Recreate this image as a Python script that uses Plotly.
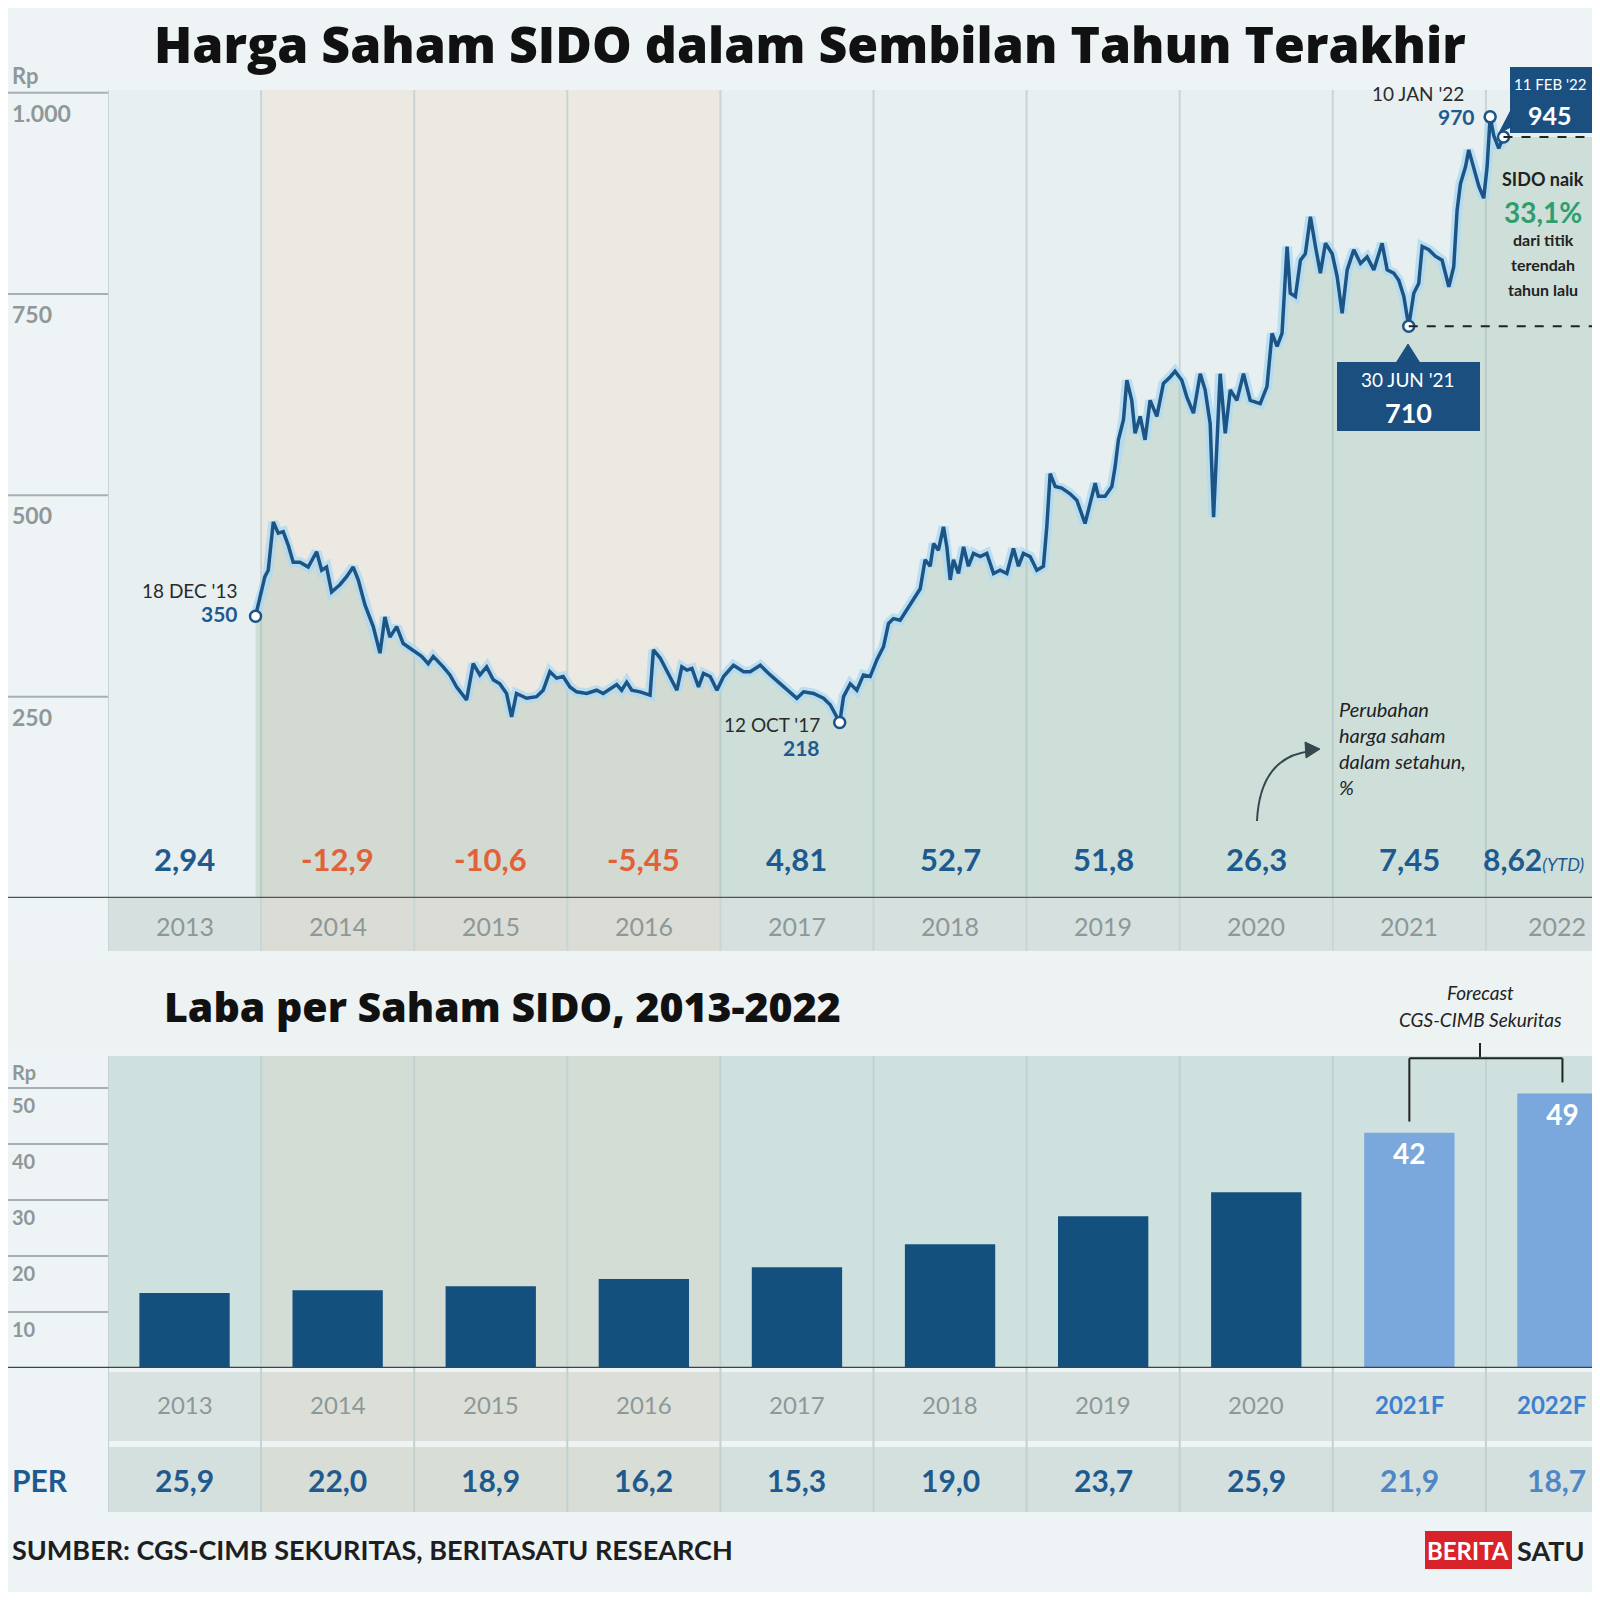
import pandas as pd
import plotly.graph_objects as go

# reference frame is 1600 px; the page shows the figure with an 8 px body margin
W = H = 1600
FIG = 1584
OFF = 8
FONT = "Lato"
HEAD = "Open Sans"

# harga saham SIDO (Rp) -- tanggal sebagai tahun desimal
price_t = [2013.964,
           2014.025, 2014.047, 2014.080, 2014.112, 2014.145, 2014.178, 2014.210, 2014.254, 2014.308, 2014.363,
           2014.396, 2014.428, 2014.461, 2014.515, 2014.559, 2014.602, 2014.635, 2014.679, 2014.733, 2014.777,
           2014.809, 2014.842, 2014.886, 2014.929, 2014.994,
           2015.049, 2015.092, 2015.125, 2015.190, 2015.234, 2015.278, 2015.343, 2015.386, 2015.430, 2015.474,
           2015.517, 2015.560, 2015.604, 2015.637, 2015.669, 2015.735, 2015.800, 2015.843, 2015.887, 2015.931,
           2015.974,
           2016.018, 2016.061, 2016.127, 2016.192, 2016.235, 2016.323, 2016.355, 2016.388, 2016.421, 2016.475,
           2016.540, 2016.562, 2016.606, 2016.649, 2016.715, 2016.747, 2016.780, 2016.813, 2016.856, 2016.888,
           2016.932, 2016.976,
           2017.019, 2017.084, 2017.150, 2017.193, 2017.259, 2017.324, 2017.389, 2017.455, 2017.498, 2017.542,
           2017.607, 2017.672, 2017.716, 2017.778, 2017.803, 2017.847, 2017.890, 2017.933, 2017.977,
           2018.021, 2018.064, 2018.097, 2018.129, 2018.173, 2018.304, 2018.336, 2018.369, 2018.391, 2018.423,
           2018.456, 2018.478, 2018.500, 2018.521, 2018.554, 2018.587, 2018.619, 2018.652, 2018.696, 2018.739,
           2018.783, 2018.826, 2018.870, 2018.913, 2018.946, 2018.978,
           2019.022, 2019.066, 2019.109, 2019.131, 2019.153, 2019.186, 2019.229, 2019.283, 2019.327, 2019.381,
           2019.414, 2019.447, 2019.468, 2019.512, 2019.556, 2019.577, 2019.599, 2019.632, 2019.654, 2019.686,
           2019.708, 2019.741, 2019.773, 2019.806, 2019.850, 2019.893, 2019.937, 2019.969,
           2020.013, 2020.046, 2020.089, 2020.133, 2020.165, 2020.198, 2020.220, 2020.242, 2020.263, 2020.296,
           2020.329, 2020.372, 2020.415, 2020.459, 2020.524, 2020.568, 2020.601, 2020.634, 2020.666, 2020.699,
           2020.720, 2020.753, 2020.786, 2020.818, 2020.851, 2020.884, 2020.916, 2020.949, 2020.993,
           2021.025, 2021.058, 2021.091, 2021.134, 2021.178, 2021.221, 2021.265, 2021.319, 2021.352, 2021.395,
           2021.428, 2021.461, 2021.493, 2021.526, 2021.558, 2021.581, 2021.624, 2021.667, 2021.711, 2021.755,
           2021.787, 2021.809, 2021.831, 2021.864, 2021.885, 2021.918, 2021.951, 2021.983,
           2022.005, 2022.025, 2022.048, 2022.081, 2022.112]
price_v = [350,
           399, 407, 467, 453, 455, 438, 417, 417, 411, 430,
           407, 411, 380, 389, 399, 411, 395, 364, 337, 304,
           349, 324, 337, 316, 308,
           300, 291, 300, 287, 277, 262, 246, 291, 277, 287,
           271, 266, 254, 225, 254, 248, 250, 258, 281, 273,
           275,
           262, 256, 254, 258, 254, 265, 258, 268, 258, 256,
           252, 308, 298, 283, 258, 287, 283, 285, 262, 279,
           275, 258,
           275, 289, 281, 281, 289, 277, 266, 256, 248, 256,
           254, 248, 240, 218, 250, 266, 258, 277, 275,
           296, 312, 341, 347, 345, 384, 420, 412, 440, 432,
           461, 436, 395, 420, 403, 436, 412, 428, 424, 428,
           403, 407, 403, 434, 412, 428,
           424, 407, 412, 461, 527, 511, 509, 502, 494, 465,
           490, 515, 499, 499, 511, 535, 569, 594, 643, 618,
           577, 598, 569, 618, 598, 639, 647, 654,
           643, 622, 602, 651, 631, 589, 473, 569, 651, 577,
           631, 618, 651, 618, 614, 635, 701, 685, 701, 809,
           751, 747, 792, 800, 846, 809, 776, 813, 800,
           772, 726, 780, 805, 788, 796, 780, 813, 780, 776,
           767, 747, 710, 751, 763, 809, 805, 797, 792, 759,
           784, 854, 887, 908, 929, 908, 884, 869,
           908, 970, 947, 931, 945]

# titik yang diberi keterangan
hl_t = [2013.964, 2017.778, 2021.493, 2022.025, 2022.112]

years = ['2013', '2014', '2015', '2016', '2017', '2018', '2019', '2020', '2021', '2022']
chg_pct = ['2,94', '-12,9', '-10,6', '-5,45', '4,81', '52,7', '51,8', '26,3', '7,45', '8,62']
eps_labels = ['2013', '2014', '2015', '2016', '2017', '2018', '2019', '2020', '2021F', '2022F']
eps_vals = [13.4, 13.9, 14.6, 15.9, 18.0, 22.1, 27.1, 31.4, 42, 49]
eps_forecast = [False] * 8 + [True, True]
per_vals = ['25,9', '22,0', '18,9', '16,2', '15,3', '19,0', '23,7', '25,9', '21,9', '18,7']
price_ticks = [250, 500, 750, 1000]
eps_ticks = [10, 20, 30, 40, 50]

X_START, X_END = '2013-01-01', '2022-09-10'
X2_END = 9.193


def to_date(t):
    y = int(t)
    a = pd.Timestamp(year=y, month=1, day=1)
    b = pd.Timestamp(year=y + 1, month=1, day=1)
    return a + (b - a) * (t - y)


def px(x):
    return (x - OFF) / FIG


def py(y):
    return 1 - (y - OFF) / FIG


def fmt_tick(v):
    return f'{v:,}'.replace(',', '.')


dates = [to_date(t) for t in price_t]
hl_i = [price_t.index(t) for t in hl_t]
last = len(years) - 1

LIGHT = '#e7eff0'
BEIGE = '#ece8e2'
BLUE_TXT = '#1f5a8e'
LINE = '#1d5486'

fig = go.Figure()

# area di bawah garis
fig.add_trace(go.Scatter(x=dates, y=price_v, mode='lines', line=dict(width=0),
                         fill='tozeroy', fillcolor='rgba(150,185,170,0.30)', hoverinfo='skip'))
fig.add_trace(go.Scatter(x=[dates[-1], X_END], y=[price_v[-1], price_v[-1]], mode='lines',
                         line=dict(width=0), fill='tozeroy', fillcolor='rgba(150,185,170,0.30)'))
# garis harga + halo
fig.add_trace(go.Scatter(x=dates, y=price_v, mode='lines',
                         line=dict(color='rgba(175,218,242,0.8)', width=10)))
fig.add_trace(go.Scatter(x=dates, y=price_v, mode='lines', line=dict(color=LINE, width=3.5)))
fig.add_trace(go.Scatter(x=[dates[i] for i in hl_i], y=[price_v[i] for i in hl_i], mode='markers',
                         marker=dict(size=11, color='white', line=dict(color=LINE, width=2.5))))

# laba per saham
fig.add_trace(go.Bar(x=list(range(len(eps_vals))), y=eps_vals, width=0.59,
                     marker=dict(color=['#7aa8dc' if f else '#14507d' for f in eps_forecast], line=dict(width=0)),
                     text=[str(v) if f else '' for v, f in zip(eps_vals, eps_forecast)],
                     textposition='inside', insidetextanchor='end',
                     textfont=dict(family=FONT, size=28, color='white', weight='bold'),
                     xaxis='x2', yaxis='y2'))

shapes = []


def rect(x0, x1, y0, y1, color, xref='paper', yref='paper', layer='below'):
    shapes.append(dict(type='rect', x0=x0, x1=x1, y0=y0, y1=y1, xref=xref, yref=yref,
                       fillcolor=color, line=dict(width=0), layer=layer))


def line(x0, x1, y0, y1, color, width=2, xref='paper', yref='paper', dash='solid', layer='above'):
    shapes.append(dict(type='line', x0=x0, x1=x1, y0=y0, y1=y1, xref=xref, yref=yref,
                       line=dict(color=color, width=width, dash=dash), layer=layer))


def path(pts, color, fill=None, width=2, curve=False):
    p = [(px(a), py(b)) for a, b in pts]
    if curve:
        d = f'M{p[0][0]},{p[0][1]} Q{p[1][0]},{p[1][1]} {p[2][0]},{p[2][1]}'
    else:
        d = 'M' + ' L'.join(f'{a},{b}' for a, b in p) + ' Z'
    shapes.append(dict(type='path', path=d, xref='paper', yref='paper', layer='above',
                       fillcolor=fill, line=dict(color=color, width=width)))


# pita latar belakang kolom tahun
rect(0, 1, py(957), py(1051), '#edf2f3')
for i in range(len(years)):
    beige = i in (1, 2, 3)
    rect(i - 0.5, i + 0.5, py(898), py(90), BEIGE if beige else LIGHT, xref='x2')
    rect(i - 0.5, i + 0.5, py(951), py(898), '#dbdcd5' if beige else '#d6e1df', xref='x2')
    rect(i - 0.5, i + 0.5, py(1368), py(1056), '#d3ddd5' if beige else '#cfe1df', xref='x2')
    rect(i - 0.5, i + 0.5, py(1441), py(1372), '#dcdfd8' if beige else '#d8e3e1', xref='x2')
    rect(i - 0.5, i + 0.5, py(1512), py(1447), '#d8ddd6' if beige else '#d3e0de', xref='x2')
for i in range(len(years)):
    b = i - 0.5
    line(b, b, py(951), py(90), '#c9d5d4', 2, xref='x2', layer='below')
    line(b, b, py(1512), py(1056), '#c3d2d0', 2, xref='x2', layer='below')

# garis dasar & grid di margin kiri
line(0, 1, 0, 0, '#4d5656', 2.5, yref='y')
line(0, 1, 0, 0, '#3c4545', 2.5, yref='y2')
for v in price_ticks:
    line(0, px(108), v, v, '#a7b0b0', 2, yref='y')
for v in eps_ticks:
    line(0, px(108), v, v, '#a7b0b0', 2, yref='y2')

# garis putus-putus dari titik terendah 2021 dan harga terakhir
for i in (hl_i[2], hl_i[4]):
    line(dates[i], X_END, price_v[i], price_v[i], '#222222', 2, xref='x', yref='y', dash='dash')

# kotak 30 JUN '21
rect(px(1337), px(1480), py(431), py(362), '#1b4f80', layer='above')
path([(1396, 363), (1420, 363), (1408, 344)], '#1b4f80', fill='#1b4f80', width=1)
# kotak 11 FEB '22
rect(px(1510), px(1600), py(133), py(67), '#1b4f80', layer='above')
path([(1511, 110), (1511, 127), (1499, 133)], '#1b4f80', fill='#1b4f80', width=1)

# panah melengkung
path([(1257, 821), (1260, 756), (1312, 751)], '#37474f', width=2, curve=True)
path([(1320, 749), (1305, 742), (1306, 758)], '#37474f', fill='#37474f', width=1)

# kurung forecast
for i in (8, 9):
    line(i, i, eps_vals[i] + 2, 55.3, '#222222', 2, xref='x2', yref='y2')
line(8, 9, 55.3, 55.3, '#222222', 2, xref='x2', yref='y2')
line(px(1480), px(1480), py(1057), py(1043), '#222222', 2)

# logo
rect(px(1425), px(1512), py(1569), py(1531), '#d8232a', layer='above')

annotations = []


def note(text, x, y, size, color, xref='paper', yref='paper', xanchor='center', yanchor='middle',
         weight='normal', style='normal', yshift=0, xshift=0, family=FONT):
    annotations.append(dict(text=text, x=x, y=y, xref=xref, yref=yref, xanchor=xanchor, yanchor=yanchor,
                            showarrow=False, yshift=yshift, xshift=xshift,
                            font=dict(family=family, size=size, color=color, weight=weight, style=style)))


note('Harga Saham SIDO dalam Sembilan Tahun Terakhir', px(152), 1, 50, '#111111',
     xanchor='left', yanchor='top', weight=800, family=HEAD)
note('Laba per Saham SIDO, 2013-2022', px(162), py(1006), 41, '#111111', xanchor='left', weight=800,
     family=HEAD)

# label sumbu (margin kiri)
note('Rp', px(10), 1000, 22, '#8f9898', yref='y', xanchor='left', yanchor='bottom', yshift=2, weight='bold')
for v in price_ticks:
    note(fmt_tick(v), px(10), v, 23, '#8f9898', yref='y', xanchor='left', yanchor='top', yshift=-4,
         weight='bold')
note('Rp', px(10), 50, 20, '#8f9898', yref='y2', xanchor='left', yanchor='bottom', yshift=2, weight='bold')
for v in eps_ticks:
    note(str(v), px(10), v, 20, '#8f9898', yref='y2', xanchor='left', yanchor='top', yshift=-3,
         weight='bold')


def col_note(i, text, y, size, color, weight='normal'):
    # kolom terakhir terpotong di tepi kanan: rata kanan supaya teks tetap utuh
    if i == last:
        note(text, px(1588), y, size, color, xanchor='right', weight=weight)
    else:
        note(text, i, y, size, color, xref='x2', weight=weight)


# baris perubahan harga, tahun, PER
for i, (yr, c) in enumerate(zip(years, chg_pct)):
    col = '#e06238' if c.startswith('-') else BLUE_TXT
    if i == last:
        note(f"{c}<span style='font-size:18px;font-weight:normal'><i>(YTD)</i></span>", px(1586), py(859),
             30, col, xanchor='right', weight='bold')
    else:
        note(c, i, py(859), 31, col, xref='x2', weight='bold')
    col_note(i, yr, py(926), 25, '#8d9898')
for i, (lab, f) in enumerate(zip(eps_labels, eps_forecast)):
    col_note(i, lab, py(1404), 24, '#3f7fcf' if f else '#8d9898', weight='bold' if f else 'normal')
for i, (p, f) in enumerate(zip(per_vals, eps_forecast)):
    col_note(i, p, py(1480), 30, '#4f86c6' if f else BLUE_TXT, weight='bold')
note('PER', px(10), py(1480), 30, BLUE_TXT, xanchor='left', weight='bold')

# keterangan titik harga
d0, d1, d2, d3, d4 = hl_i
note("18 DEC '13", px(240), py(590), 19, '#2b2b2b', xanchor='right')
note(str(price_v[d0]), px(240), py(613), 21, BLUE_TXT, xanchor='right', weight='bold')
note("12 OCT '17", px(822), py(724), 19, '#2b2b2b', xanchor='right')
note(str(price_v[d1]), px(822), py(748), 21, BLUE_TXT, xanchor='right', weight='bold')
note("10 JAN '22", px(1418), py(94), 19, '#2b2b2b')
note(str(price_v[d3]), px(1477), py(117), 21, BLUE_TXT, xanchor='right', weight='bold')
note("30 JUN '21", px(1408), py(379), 19, 'white')
note(str(price_v[d2]), px(1408), py(413), 27, 'white', weight='bold')
note("11 FEB '22", px(1550), py(84), 15, 'white')
note(str(price_v[d4]), px(1550), py(115), 25, 'white', weight='bold')

note('SIDO naik', px(1543), py(179), 18, '#222222', weight='bold')
note('33,1%', px(1543), py(212), 28, '#2f9e6f', weight='bold')
note('dari titik', px(1543), py(239), 16, '#222222', weight='bold')
note('terendah', px(1543), py(264), 16, '#222222', weight='bold')
note('tahun lalu', px(1543), py(290), 16, '#222222', weight='bold')

note('Perubahan<br>harga saham<br>dalam setahun,<br>%', px(1337), py(748), 20, '#222222',
     xanchor='left', style='italic')
annotations[-1]['align'] = 'left'

note('Forecast', px(1480), py(992), 19, '#222222', style='italic')
note('CGS-CIMB Sekuritas', px(1480), py(1020), 19, '#222222', style='italic')

note('SUMBER: CGS-CIMB SEKURITAS, BERITASATU RESEARCH', px(10), py(1549), 27, '#1e1e1e',
     xanchor='left', weight='bold')
note('BERITA', px(1468), py(1550), 24, 'white', weight='bold')
note('SATU', px(1515), py(1550), 27, '#222222', xanchor='left', weight='bold')

fig.update_layout(
    width=FIG, height=FIG, margin=dict(l=0, r=0, t=0, b=0),
    paper_bgcolor='#eef4f5', plot_bgcolor='rgba(0,0,0,0)',
    showlegend=False, font=dict(family=FONT),
    xaxis=dict(domain=[px(108), 1], type='date', range=[X_START, X_END], visible=False, anchor='y'),
    yaxis=dict(domain=[py(898), py(60)], range=[0, (898 - 60) / 0.8053], visible=False, anchor='x'),
    xaxis2=dict(domain=[px(108), 1], range=[-0.5, X2_END], visible=False, anchor='y2'),
    yaxis2=dict(domain=[py(1368), py(1056)], range=[0, (1368 - 1056) / 5.6], visible=False, anchor='x2'),
    shapes=shapes, annotations=annotations,
)

fig.write_html("out.html")
